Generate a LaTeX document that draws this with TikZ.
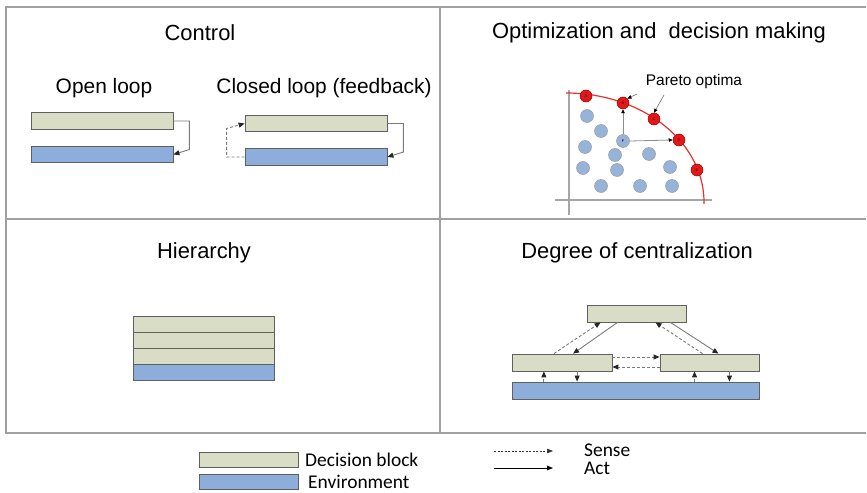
\documentclass[tikz,border=0pt]{standalone}
\usepackage{fontspec}
\setmainfont{Liberation Sans}
\newfontfamily\legendfont{Carlito}
\usetikzlibrary{arrows.meta,calc}

\definecolor{decfill}{HTML}{D9DDC6}
\definecolor{envfill}{HTML}{8DADDB}
\definecolor{edgecol}{HTML}{606060}
\definecolor{framecol}{HTML}{A0A0A0}
\definecolor{linkcol}{HTML}{7A7A7A}
\definecolor{dotblue}{HTML}{96B4DA}
\definecolor{dotred}{HTML}{E01818}
\definecolor{curvered}{HTML}{E83030}

\tikzset{
  dblock/.style={draw=edgecol, fill=decfill, line width=0.8bp, inner sep=0pt, minimum height=16.5bp},
  eblock/.style={draw=edgecol, fill=envfill, line width=0.8bp, inner sep=0pt, minimum height=16.5bp},
  title/.style={font=\fontsize{22}{25}\selectfont, inner sep=0pt, anchor=center},
  tip/.style={-{Triangle[length=6bp,width=5bp,color=black!85]}},
  actlink/.style={tip, draw=linkcol, line width=0.9bp},
  senselink/.style={tip, draw=linkcol, line width=0.9bp, dash pattern=on 3bp off 2bp},
  bluedot/.style={circle, draw=gray!80, fill=dotblue, line width=0.5bp, minimum size=13bp, inner sep=0pt, font=\fontsize{4}{4}\selectfont},
  reddot/.style={circle, draw=red!60!black, fill=dotred, line width=0.5bp, minimum size=12bp, inner sep=0pt, text=red!40!black, font=\fontsize{4}{4}\selectfont},
  axis/.style={draw=gray!70, line width=1.2bp},
  smalltip/.style={-{Triangle[length=4bp,width=3.5bp,color=black]}},
  pointer/.style={smalltip, draw=gray!90!black, line width=0.6bp},
  legendtext/.style={font=\legendfont\fontsize{19.5}{20}\selectfont, anchor=west, inner sep=0pt},
}

\begin{document}
\begin{tikzpicture}[x=1bp, y=-1bp]
\useasboundingbox (0,0) rectangle (867,493);

% panel frame
\draw[framecol, line width=1.8bp] (866,7) -- (6,7) -- (6,433) -- (866,433);
\draw[framecol, line width=1.5bp] (440,7) -- (440,433);
\draw[framecol, line width=1.5bp] (6,219) -- (866,219);

% ---------- Control ----------
\node[title] (tctl) at (200,33) {Control};
\node[title, font=\fontsize{21}{24}\selectfont] (topen) at (104,88) {Open loop};
\node[title, font=\fontsize{21}{24}\selectfont] (tclosed) at (324,88) {Closed loop (feedback)};

\node[dblock, minimum width=142bp] (oldec) at (102,121) {};
\node[eblock, minimum width=142bp] (olenv) at (102,154.5) {};
\draw[actlink] (oldec.east) -| ($(olenv.east)+(16,-5)$) -- (olenv.east);

\node[dblock, minimum width=142bp] (cldec) at (316,123.5) {};
\node[eblock, minimum width=142bp] (clenv) at (316,157) {};
\draw[actlink] (cldec.east) -| ($(clenv.east)+(16,-5)$) -- (clenv.east);
\draw[senselink] (clenv.west) -| ($(cldec.west)+(-18,5)$) -- (cldec.west);

% ---------- Optimization and decision making ----------
\node[title] (topt) at (659,33) {Optimization and\ \ decision making};

\coordinate (yaxtop) at (569,90);
\coordinate (yaxbot) at (569,215);
\coordinate (xaxl) at (555,200);
\coordinate (xaxr) at (712,200);
\draw[axis] (yaxtop) -- (yaxbot);
\draw[axis] (xaxl) -- (xaxr);

% Pareto front: quarter ellipse
\draw[curvered, line width=1.2bp] (566,93) arc[start angle=-90, end angle=1, x radius=138, y radius=109];

\foreach \p/\n in {{587,116}/b1, {601,131}/b2, {585,147}/b3, {615,155}/b4, {649,154}/b5,
                   {583,168}/b6, {617,170}/b7, {670,167}/b8, {601,186}/b9, {640,186}/b10, {672,186}/b11}
  \node[bluedot] (\n) at (\p) {};
\node[bluedot] (F) at (623,141) {F};

\node[reddot] (A) at (586,96) {A};
\node[reddot] (B) at (623,103) {B};
\node[reddot] (C) at (654,119) {C};
\node[reddot] (D) at (679,140) {D};
\node[reddot] (E) at (697,170) {E};

\draw[smalltip, draw=gray!90, line width=0.8bp] (F.north) -- (B.south);
\draw[smalltip, draw=gray!90, line width=0.8bp] (F.east) -- (D.west);

\node[font=\fontsize{15.5}{18}\selectfont, inner sep=0pt] (pareto) at (694,82) {Pareto optima};
\coordinate (pA) at (637,94);
\coordinate (pC) at (664,95);
\draw[pointer] (pA) -- (B.north east);
\draw[pointer] (pC) -- (C.north);

% ---------- Hierarchy ----------
\node[title] (thier) at (204,253) {Hierarchy};
\node[dblock, minimum width=141bp, minimum height=16bp] (h1) at (203.5,324) {};
\node[dblock, minimum width=141bp, minimum height=16bp] (h2) at (203.5,340) {};
\node[dblock, minimum width=141bp, minimum height=16bp] (h3) at (203.5,356) {};
\node[eblock, minimum width=141bp, minimum height=16.5bp] (henv) at (203.5,372.3) {};

% ---------- Degree of centralization ----------
\node[title] (tcen) at (637,253) {Degree of centralization};

\node[dblock, minimum width=99bp, minimum height=17bp] (ctop) at (636.5,313.5) {};
\node[dblock, minimum width=100bp, minimum height=17bp] (cleft) at (562,362.5) {};
\node[dblock, minimum width=99bp, minimum height=17bp] (cright) at (709.5,362.5) {};
\node[eblock, minimum width=247bp, minimum height=17bp] (cenv) at (635.5,390.5) {};

\draw[senselink] ($(cleft.north west)!0.42!(cleft.north east)$) -- ($(ctop.south west)!0.14!(ctop.south east)$);
\draw[actlink] ($(ctop.south west)!0.31!(ctop.south east)$) -- ($(cleft.north west)!0.61!(cleft.north east)$);
\draw[senselink] ($(cright.north west)!0.43!(cright.north east)$) -- ($(ctop.south west)!0.69!(ctop.south east)$);
\draw[actlink] ($(ctop.south west)!0.84!(ctop.south east)$) -- ($(cright.north west)!0.59!(cright.north east)$);

\draw[senselink] ($(cleft.east)+(0,-5.5)$) -- ($(cright.west)+(0,-5.5)$);
\draw[senselink] ($(cright.west)+(0,4.5)$) -- ($(cleft.east)+(0,4.5)$);

\coordinate (lu) at ($(cleft.south west)!0.32!(cleft.south east)$);
\coordinate (ld) at ($(cleft.south west)!0.65!(cleft.south east)$);
\coordinate (ru) at ($(cright.south west)!0.35!(cright.south east)$);
\coordinate (rd) at ($(cright.south west)!0.70!(cright.south east)$);
\draw[senselink] (lu |- cenv.north) -- (lu);
\draw[actlink] (ld) -- (ld |- cenv.north);
\draw[senselink] (ru |- cenv.north) -- (ru);
\draw[actlink] (rd) -- (rd |- cenv.north);

% ---------- Legend ----------
\node[dblock, minimum width=99bp, minimum height=15bp] (lgdec) at (248.5,459.5) {};
\node[eblock, minimum width=99bp, minimum height=15bp] (lgenv) at (248.5,481.5) {};
\node[legendtext] (lgdect) at (305,459.5) {Decision block};
\node[legendtext] (lgenvt) at (308,482) {Environment};

\coordinate (ls1) at (494,451);
\coordinate (ls2) at (553,451);
\coordinate (la1) at (494,468);
\coordinate (la2) at (553,468);
\draw[-{Triangle[length=6bp,width=4.5bp]}, black!80, line width=0.6bp, dash pattern=on 2bp off 1.5bp] (ls1) -- (ls2);
\draw[-{Triangle[length=6bp,width=4.5bp]}, black, line width=0.9bp] (la1) -- (la2);
\node[legendtext] (lgsense) at (584,450.5) {Sense};
\node[legendtext] (lgact) at (584,468.5) {Act};
\end{tikzpicture}
\end{document}
